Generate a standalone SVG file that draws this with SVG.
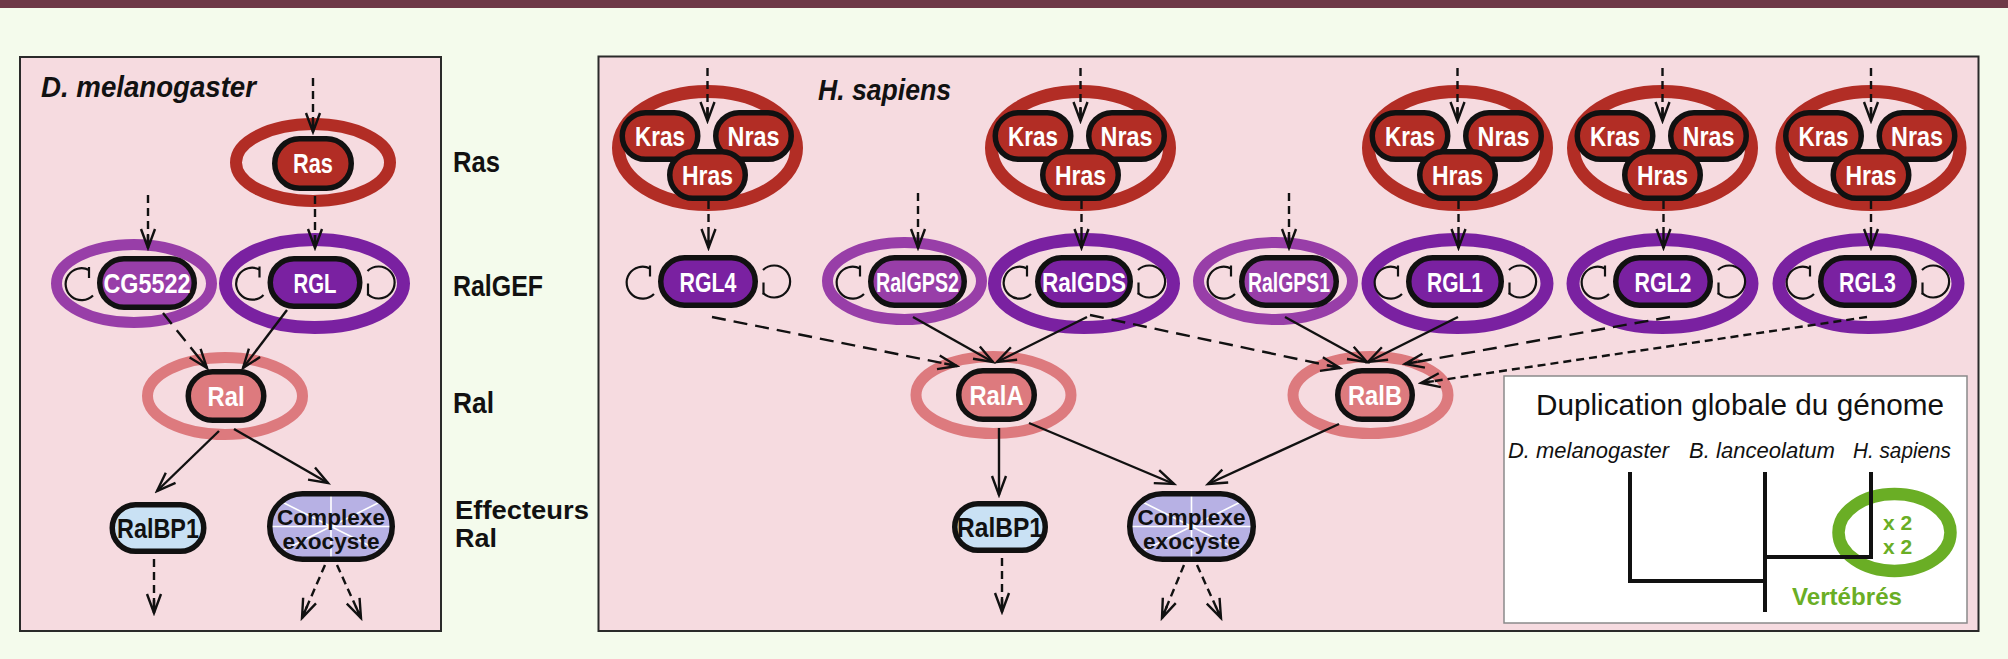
<svg xmlns="http://www.w3.org/2000/svg" xmlns:xlink="http://www.w3.org/1999/xlink" width="2008" height="659" viewBox="0 0 2008 659">
<style>
.panel{fill:#f6dbe0;stroke:#2a2a2a;stroke-width:2}
.pill{stroke:#111;stroke-width:5.5}
.ras{fill:#b22d25}
.gef{fill:#7a21a1}
.gps{fill:#983ea8}
.ral{fill:#dd7a7e}
.bp1{fill:#c9e1f4}
.exo{fill:#b7b1e4}
.rRas{fill:none;stroke:#b22d25;stroke-width:13}
.rGef{fill:none;stroke:#7a21a1;stroke-width:13}
.rGps{fill:none;stroke:#983ea8;stroke-width:11}
.rRal{fill:none;stroke:#dd7a7e;stroke-width:11}
.lbl{font-family:"Liberation Sans",Arial,sans-serif;font-weight:bold;font-size:28px;fill:#fff;text-anchor:middle}
.lblk{font-family:"Liberation Sans",Arial,sans-serif;font-weight:bold;font-size:28px;fill:#111;text-anchor:middle}
.exot{font-family:"Liberation Sans",Arial,sans-serif;font-weight:bold;font-size:21.5px;fill:#111;text-anchor:middle}
.row{font-family:"Liberation Sans",Arial,sans-serif;font-weight:bold;font-size:30px;fill:#111}
.ttl{font-family:"Liberation Sans",Arial,sans-serif;font-weight:bold;font-style:italic;font-size:29px;fill:#111}
.spk{fill:none;stroke:#fff;stroke-width:1.6}
.c{fill:none;stroke:#111;stroke-width:2.4}
.s{marker-end:url(#ah)}
.d{stroke-dasharray:8 5;marker-end:url(#ahd)}
.dl{stroke-dasharray:14 8;marker-end:url(#ahd)}
.sp{font-family:"Liberation Sans",Arial,sans-serif;font-style:italic;font-size:22px;fill:#111}
.grn{font-family:"Liberation Sans",Arial,sans-serif;font-weight:bold;fill:#6aae25}
</style>
<defs>
<marker id="ah" viewBox="-24 -12 27 24" markerWidth="27" markerHeight="24" refX="0" refY="0" orient="auto" markerUnits="userSpaceOnUse">
<path d="M-19,-7 L0,0 L-19,7" fill="none" stroke="#111" stroke-width="2.4"/>
</marker>
<marker id="ahd" viewBox="-24 -12 27 24" markerWidth="27" markerHeight="24" refX="0" refY="0" orient="auto" markerUnits="userSpaceOnUse">
<path d="M-19,-7 L0,0 L-19,7 M-13,0 L0,0" fill="none" stroke="#111" stroke-width="2.4"/>
</marker>
<g id="lpL" fill="none" stroke="#111" stroke-width="2.2">
<path d="M-8,-13 A16,16 0 1 0 -4,12.5"/>
<path d="M-8,-16 V-5"/>
</g>
<g id="lpR" fill="none" stroke="#111" stroke-width="2.2">
<path d="M5,11.5 A16,16 0 1 0 5,-11.5"/>
<path d="M5.5,1 V13"/>
</g>
</defs>

<rect x="0" y="0" width="2008" height="659" fill="#f4fbec"/>
<rect x="0" y="0" width="2008" height="8" fill="#6e3947"/>

<rect class="panel" x="20" y="57" width="421" height="574"/>
<rect class="panel" x="598.5" y="56.5" width="1380" height="574.5"/>

<text class="ttl" x="41" y="97" textLength="215" lengthAdjust="spacingAndGlyphs">D. melanogaster</text>
<text class="ttl" x="818" y="100" textLength="133" lengthAdjust="spacingAndGlyphs">H. sapiens</text>

<g id="row-labels">
<text class="row" x="453" y="172" textLength="47" lengthAdjust="spacingAndGlyphs">Ras</text>
<text class="row" x="453" y="296" textLength="90" lengthAdjust="spacingAndGlyphs">RalGEF</text>
<text class="row" x="453" y="413" textLength="41" lengthAdjust="spacingAndGlyphs">Ral</text>
<text class="row" x="455" y="519" textLength="134" lengthAdjust="spacingAndGlyphs" style="font-size:25px">Effecteurs</text>
<text class="row" x="455" y="547" textLength="42" lengthAdjust="spacingAndGlyphs" style="font-size:25px">Ral</text>
</g>

<!-- D. melanogaster nodes -->
<g id="dm-ras">
<ellipse class="rRas" cx="313" cy="162.5" rx="77" ry="38.5" style="stroke-width:12"/>
<rect class="pill ras" x="274.75" y="138.75" width="76.5" height="49.5" rx="24.75"/>
<text class="lbl" x="313" y="173" textLength="40" lengthAdjust="spacingAndGlyphs">Ras</text>
</g>
<g id="dm-cg5522">
<ellipse class="rGps" cx="134" cy="283.5" rx="77.5" ry="39"/>
<rect class="pill gps" x="99.75" y="258.75" width="94.5" height="48.5" rx="24.25"/>
<text class="lbl" x="147" y="293" textLength="87" lengthAdjust="spacingAndGlyphs">CG5522</text>
<use href="#lpL" xlink:href="#lpL" x="97" y="283"/>
</g>
<g id="dm-rgl">
<ellipse class="rGef" cx="314.5" cy="283.5" rx="89" ry="44"/>
<rect class="pill gef" x="270.25" y="258.75" width="89.5" height="47.5" rx="23.75"/>
<text class="lbl" x="315" y="292.5" textLength="43" lengthAdjust="spacingAndGlyphs">RGL</text>
<use href="#lpL" xlink:href="#lpL" x="267.5" y="282.5"/>
<use href="#lpR" xlink:href="#lpR" x="362.5" y="282.5"/>
</g>
<g id="dm-ral">
<ellipse class="rRal" cx="225" cy="396" rx="77.5" ry="38.5"/>
<rect class="pill ral" x="188.25" y="371.75" width="75.5" height="48.5" rx="24.25"/>
<text class="lbl" x="226" y="406" textLength="37" lengthAdjust="spacingAndGlyphs">Ral</text>
</g>
<g id="dm-ralbp1">
<rect class="pill bp1" x="112.25" y="504.75" width="91.5" height="46.5" rx="23.25"/>
<text class="lblk" x="158" y="538" textLength="82" lengthAdjust="spacingAndGlyphs">RalBP1</text>
</g>
<g id="dm-exocyste">
<rect class="exo" x="269.75" y="493.75" width="122.5" height="65.5" rx="32.75"/>
<path class="spk" d="M331,494 V559 M270,526.5 H392 M331,526.5 L281,501.5 M331,526.5 L381,501.5 M331,526.5 L281,551.5 M331,526.5 L381,551.5"/>
<rect class="pill" fill="none" x="269.75" y="493.75" width="122.5" height="65.5" rx="32.75"/>
<text class="exot" x="331" y="525" textLength="108" lengthAdjust="spacingAndGlyphs">Complexe</text>
<text class="exot" x="331" y="549" textLength="97" lengthAdjust="spacingAndGlyphs">exocyste</text>
</g>

<!-- H. sapiens Ras groups -->
<g id="hs-ras1">
<ellipse class="rRas" cx="707.5" cy="148" rx="89" ry="56.5"/>
<rect class="pill ras" x="622.25" y="112.75" width="75.5" height="46.5" rx="23.25"/>
<rect class="pill ras" x="715.75" y="112.75" width="75.5" height="46.5" rx="23.25"/>
<rect class="pill ras" x="669.75" y="151.75" width="75.5" height="46.5" rx="23.25"/>
<text class="lbl" x="660" y="146" textLength="50" lengthAdjust="spacingAndGlyphs">Kras</text>
<text class="lbl" x="753.5" y="146" textLength="52" lengthAdjust="spacingAndGlyphs">Nras</text>
<text class="lbl" x="707.5" y="185" textLength="51" lengthAdjust="spacingAndGlyphs">Hras</text>
</g>
<g id="hs-ras2">
<ellipse class="rRas" cx="1080.5" cy="148" rx="89" ry="56.5"/>
<rect class="pill ras" x="995.25" y="112.75" width="75.5" height="46.5" rx="23.25"/>
<rect class="pill ras" x="1088.75" y="112.75" width="75.5" height="46.5" rx="23.25"/>
<rect class="pill ras" x="1042.75" y="151.75" width="75.5" height="46.5" rx="23.25"/>
<text class="lbl" x="1033" y="146" textLength="50" lengthAdjust="spacingAndGlyphs">Kras</text>
<text class="lbl" x="1126.5" y="146" textLength="52" lengthAdjust="spacingAndGlyphs">Nras</text>
<text class="lbl" x="1080.5" y="185" textLength="51" lengthAdjust="spacingAndGlyphs">Hras</text>
</g>
<g id="hs-ras3">
<ellipse class="rRas" cx="1457.5" cy="148" rx="89" ry="56.5"/>
<rect class="pill ras" x="1372.25" y="112.75" width="75.5" height="46.5" rx="23.25"/>
<rect class="pill ras" x="1465.75" y="112.75" width="75.5" height="46.5" rx="23.25"/>
<rect class="pill ras" x="1419.75" y="151.75" width="75.5" height="46.5" rx="23.25"/>
<text class="lbl" x="1410" y="146" textLength="50" lengthAdjust="spacingAndGlyphs">Kras</text>
<text class="lbl" x="1503.5" y="146" textLength="52" lengthAdjust="spacingAndGlyphs">Nras</text>
<text class="lbl" x="1457.5" y="185" textLength="51" lengthAdjust="spacingAndGlyphs">Hras</text>
</g>
<g id="hs-ras4">
<ellipse class="rRas" cx="1662.5" cy="148" rx="89" ry="56.5"/>
<rect class="pill ras" x="1577.25" y="112.75" width="75.5" height="46.5" rx="23.25"/>
<rect class="pill ras" x="1670.75" y="112.75" width="75.5" height="46.5" rx="23.25"/>
<rect class="pill ras" x="1624.75" y="151.75" width="75.5" height="46.5" rx="23.25"/>
<text class="lbl" x="1615" y="146" textLength="50" lengthAdjust="spacingAndGlyphs">Kras</text>
<text class="lbl" x="1708.5" y="146" textLength="52" lengthAdjust="spacingAndGlyphs">Nras</text>
<text class="lbl" x="1662.5" y="185" textLength="51" lengthAdjust="spacingAndGlyphs">Hras</text>
</g>
<g id="hs-ras5">
<ellipse class="rRas" cx="1871" cy="148" rx="89" ry="56.5"/>
<rect class="pill ras" x="1785.75" y="112.75" width="75.5" height="46.5" rx="23.25"/>
<rect class="pill ras" x="1879.25" y="112.75" width="75.5" height="46.5" rx="23.25"/>
<rect class="pill ras" x="1833.25" y="151.75" width="75.5" height="46.5" rx="23.25"/>
<text class="lbl" x="1823.5" y="146" textLength="50" lengthAdjust="spacingAndGlyphs">Kras</text>
<text class="lbl" x="1917" y="146" textLength="52" lengthAdjust="spacingAndGlyphs">Nras</text>
<text class="lbl" x="1871" y="185" textLength="51" lengthAdjust="spacingAndGlyphs">Hras</text>
</g>

<!-- H. sapiens RalGEFs -->
<g id="hs-rgl4">
<rect class="pill gef" x="660.75" y="257.75" width="94.5" height="47.5" rx="23.75"/>
<text class="lbl" x="708" y="291.5" textLength="57" lengthAdjust="spacingAndGlyphs">RGL4</text>
<use href="#lpL" xlink:href="#lpL" x="658" y="281.5"/>
<use href="#lpR" xlink:href="#lpR" x="758" y="281.5"/>
</g>
<g id="hs-ralgps2">
<ellipse class="rGps" cx="904.5" cy="281" rx="77" ry="38.5"/>
<rect class="pill gps" x="870.75" y="257.75" width="93.5" height="47.5" rx="23.75"/>
<text class="lbl" x="917.5" y="291.5" textLength="83" lengthAdjust="spacingAndGlyphs">RalGPS2</text>
<use href="#lpL" xlink:href="#lpL" x="868" y="281.5"/>
</g>
<g id="hs-ralgds">
<ellipse class="rGef" cx="1084" cy="283.5" rx="89.5" ry="44"/>
<rect class="pill gef" x="1037.75" y="257.75" width="92.5" height="47.5" rx="23.75"/>
<text class="lbl" x="1084" y="291.5" textLength="84" lengthAdjust="spacingAndGlyphs">RalGDS</text>
<use href="#lpL" xlink:href="#lpL" x="1035" y="281.5"/>
<use href="#lpR" xlink:href="#lpR" x="1133" y="281.5"/>
</g>
<g id="hs-ralgps1">
<ellipse class="rGps" cx="1275.5" cy="281" rx="77" ry="38.5"/>
<rect class="pill gps" x="1241.75" y="257.75" width="94.5" height="47.5" rx="23.75"/>
<text class="lbl" x="1289" y="291.5" textLength="82" lengthAdjust="spacingAndGlyphs">RalGPS1</text>
<use href="#lpL" xlink:href="#lpL" x="1239" y="281.5"/>
</g>
<g id="hs-rgl1">
<ellipse class="rGef" cx="1457.5" cy="283.5" rx="89.5" ry="44"/>
<rect class="pill gef" x="1408.75" y="257.75" width="92.5" height="47.5" rx="23.75"/>
<text class="lbl" x="1455" y="291.5" textLength="56" lengthAdjust="spacingAndGlyphs">RGL1</text>
<use href="#lpL" xlink:href="#lpL" x="1406" y="281.5"/>
<use href="#lpR" xlink:href="#lpR" x="1504" y="281.5"/>
</g>
<g id="hs-rgl2">
<ellipse class="rGef" cx="1662.5" cy="283.5" rx="89.5" ry="44"/>
<rect class="pill gef" x="1615.75" y="257.75" width="94.5" height="47.5" rx="23.75"/>
<text class="lbl" x="1663" y="291.5" textLength="57" lengthAdjust="spacingAndGlyphs">RGL2</text>
<use href="#lpL" xlink:href="#lpL" x="1613" y="281.5"/>
<use href="#lpR" xlink:href="#lpR" x="1713" y="281.5"/>
</g>
<g id="hs-rgl3">
<ellipse class="rGef" cx="1868.5" cy="283.5" rx="89.5" ry="44"/>
<rect class="pill gef" x="1820.75" y="257.75" width="93.5" height="47.5" rx="23.75"/>
<text class="lbl" x="1867.5" y="291.5" textLength="57" lengthAdjust="spacingAndGlyphs">RGL3</text>
<use href="#lpL" xlink:href="#lpL" x="1818" y="281.5"/>
<use href="#lpR" xlink:href="#lpR" x="1917" y="281.5"/>
</g>

<!-- H. sapiens Ral and effectors -->
<g id="hs-rala">
<ellipse class="rRal" cx="993.5" cy="395" rx="77.5" ry="38.5"/>
<rect class="pill ral" x="958.75" y="370.75" width="75.5" height="48.5" rx="24.25"/>
<text class="lbl" x="996.5" y="405" textLength="54" lengthAdjust="spacingAndGlyphs">RalA</text>
</g>
<g id="hs-ralb">
<ellipse class="rRal" cx="1370.5" cy="395" rx="77.5" ry="38.5"/>
<rect class="pill ral" x="1337.75" y="370.75" width="74.5" height="48.5" rx="24.25"/>
<text class="lbl" x="1375" y="405" textLength="54" lengthAdjust="spacingAndGlyphs">RalB</text>
</g>
<g id="hs-ralbp1">
<rect class="pill bp1" x="954.75" y="503.75" width="90.5" height="46.5" rx="23.25"/>
<text class="lblk" x="1000" y="537" textLength="86" lengthAdjust="spacingAndGlyphs">RalBP1</text>
</g>
<g id="hs-exocyste">
<rect class="exo" x="1129.75" y="493.75" width="123.5" height="65.5" rx="32.75"/>
<path class="spk" d="M1191.5,494 V559 M1130,526.5 H1253 M1191.5,526.5 L1141.5,501.5 M1191.5,526.5 L1241.5,501.5 M1191.5,526.5 L1141.5,551.5 M1191.5,526.5 L1241.5,551.5"/>
<rect class="pill" fill="none" x="1129.75" y="493.75" width="123.5" height="65.5" rx="32.75"/>
<text class="exot" x="1191.5" y="525" textLength="108" lengthAdjust="spacingAndGlyphs">Complexe</text>
<text class="exot" x="1191.5" y="549" textLength="97" lengthAdjust="spacingAndGlyphs">exocyste</text>
</g>

<!-- Inset: genome duplication -->
<g id="inset">
<rect x="1504" y="376" width="463" height="247" fill="#fff" stroke="#8a8a8a" stroke-width="1.5"/>
<text x="1536" y="415" font-family="Liberation Sans, Arial, sans-serif" font-size="29.5" fill="#111" textLength="408" lengthAdjust="spacingAndGlyphs">Duplication globale du génome</text>
<text class="sp" x="1508" y="458" textLength="161" lengthAdjust="spacingAndGlyphs">D. melanogaster</text>
<text class="sp" x="1689" y="458" textLength="146" lengthAdjust="spacingAndGlyphs">B. lanceolatum</text>
<text class="sp" x="1853" y="458" textLength="98" lengthAdjust="spacingAndGlyphs">H. sapiens</text>
<ellipse cx="1894.5" cy="532.5" rx="56" ry="38.5" fill="none" stroke="#6aae25" stroke-width="12.5"/>
<path d="M1630,472 V581 H1765 M1765,472 V612 M1765,557 H1871 V472" fill="none" stroke="#111" stroke-width="4"/>
<text class="grn" x="1883" y="530" font-size="21">x 2</text>
<text class="grn" x="1883" y="554" font-size="21">x 2</text>
<text class="grn" x="1792" y="605" font-size="24" textLength="110" lengthAdjust="spacingAndGlyphs">Vertébrés</text>
</g>

<g id="connectors">
<!-- D. melanogaster -->
<path class="c d" d="M313,78 V132"/>
<path class="c d" d="M315,196 V248"/>
<path class="c d" d="M148,195 V248"/>
<path class="c dl" d="M163,313 L207,368"/>
<path class="c s" d="M287,310 L243,368"/>
<path class="c s" d="M219,431 L157,491"/>
<path class="c s" d="M234,429 L328,483"/>
<path class="c d" d="M154,559 V613"/>
<path class="c d" d="M325,565 L302,618"/>
<path class="c d" d="M337,565 L361,618"/>
<!-- H. sapiens Ras inputs -->
<path class="c d" d="M707.5,68 V121"/>
<path class="c d" d="M1080.5,68 V121"/>
<path class="c d" d="M1457.5,68 V121"/>
<path class="c d" d="M1662.5,68 V121"/>
<path class="c d" d="M1871,68 V121"/>
<!-- Ras to RalGEF -->
<path class="c d" d="M708.5,201 V248"/>
<path class="c d" d="M1081.5,201 V248"/>
<path class="c d" d="M1458.5,201 V248"/>
<path class="c d" d="M1663.5,201 V248"/>
<path class="c d" d="M1871,201 V248"/>
<path class="c d" d="M918,193 V248"/>
<path class="c d" d="M1289,193 V248"/>
<!-- RalGEF to Ral -->
<path class="c dl" d="M712,317 L957,366"/>
<path class="c s" d="M913,317 L993,362"/>
<path class="c s" d="M1087,317 L997,362"/>
<path class="c dl" d="M1090,315 L1340,368"/>
<path class="c s" d="M1285,317 L1367,362"/>
<path class="c s" d="M1458,317 L1368,362"/>
<path class="c dl" d="M1670,317 L1405,364"/>
<path class="c d" d="M1867,317 L1421,383"/>
<!-- Ral to effectors -->
<path class="c s" d="M999,428 V495"/>
<path class="c s" d="M1029,423 L1174,484"/>
<path class="c s" d="M1339,424 L1208,484"/>
<path class="c d" d="M1002,558 V612"/>
<path class="c d" d="M1184,565 L1162,618"/>
<path class="c d" d="M1197,565 L1221,618"/>
</g>
</svg>
